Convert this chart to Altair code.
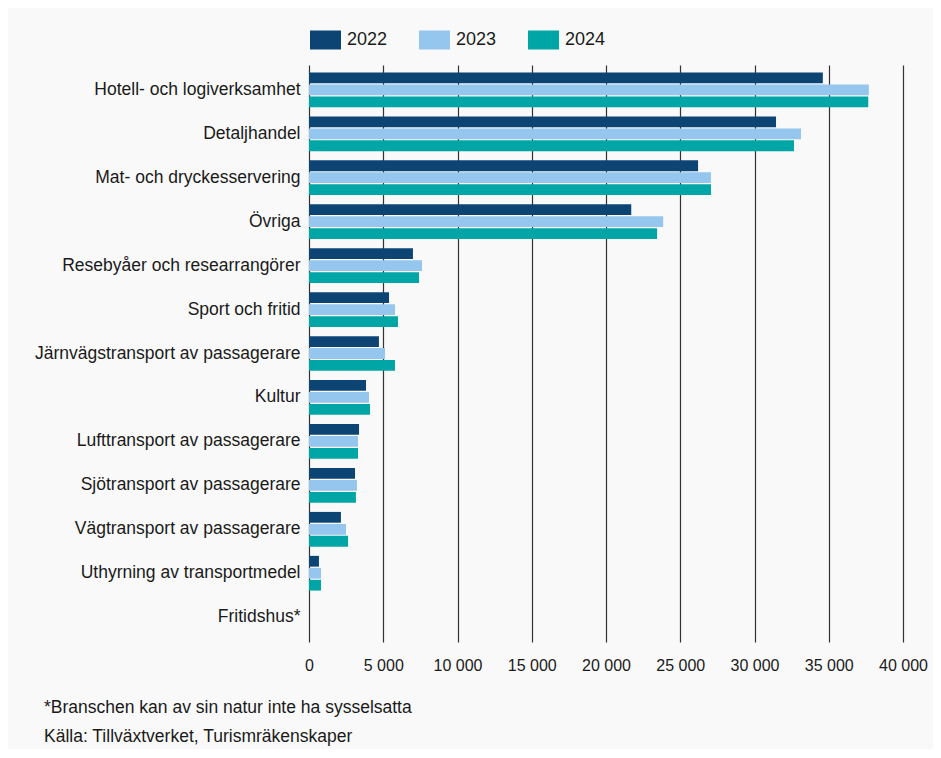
import altair as alt
import pandas as pd

categories = [
    "Hotell- och logiverksamhet",
    "Detaljhandel",
    "Mat- och dryckesservering",
    "Övriga",
    "Resebyåer och researrangörer",
    "Sport och fritid",
    "Järnvägstransport av passagerare",
    "Kultur",
    "Lufttransport av passagerare",
    "Sjötransport av passagerare",
    "Vägtransport av passagerare",
    "Uthyrning av transportmedel",
    "Fritidshus*",
]
years = ["2022", "2023", "2024"]
v2022 = [34600, 31450, 26200, 21700, 7000, 5390, 4710, 3840, 3370, 3100, 2150, 670, 0]
v2023 = [37700, 33130, 27070, 23850, 7610, 5790, 5120, 4040, 3300, 3230, 2490, 810, 0]
v2024 = [37660, 32660, 27070, 23440, 7410, 5990, 5790, 4110, 3300, 3160, 2630, 810, 0]
colors = ["#0c4474", "#94c6ee", "#00a6a5"]
x_ticks = [0, 5000, 10000, 15000, 20000, 25000, 30000, 35000, 40000]
footnotes = [
    "*Branschen kan av sin natur inte ha sysselsatta",
    "Källa: Tillväxtverket, Turismräkenskaper",
]

rows = []
for y, vals in zip(years, [v2022, v2023, v2024]):
    for c, v in zip(categories, vals):
        rows.append({"category": c, "year": y, "value": v})
df = pd.DataFrame(rows)

FONT = "Liberation Sans"

chart = (
    alt.Chart(df)
    .mark_bar(strokeWidth=0)
    .encode(
        x=alt.X(
            "value:Q",
            scale=alt.Scale(domain=[0, 40000], nice=False),
            axis=alt.Axis(
                title=None,
                values=x_ticks,
                labelExpr="replace(format(datum.value, ','), ',', ' ')",
                grid=True,
                ticks=False,
                domain=False,
                labelFlush=False,
                labelOverlap=False,
                labelPadding=15,
                labelFontSize=16,
            ),
        ),
        y=alt.Y(
            "category:N",
            sort=categories,
            scale=alt.Scale(paddingInner=0.21, paddingOuter=0.17),
            axis=alt.Axis(
                title=None,
                ticks=False,
                domain=False,
                grid=False,
                labelPadding=9,
                labelLimit=400,
                labelFontSize=17.5,
            ),
        ),
        yOffset=alt.YOffset(
            "year:N", sort=years, scale=alt.Scale(paddingInner=0.1, paddingOuter=0)
        ),
        color=alt.Color(
            "year:N",
            sort=years,
            scale=alt.Scale(domain=years, range=colors),
            legend=alt.Legend(
                title=None,
                orient="none",
                legendX=1,
                legendY=-41,
                direction="horizontal",
                symbolType="M-1,-0.613H1V0.613H-1Z",
                symbolSize=961,
                symbolStrokeWidth=0,
                symbolOpacity=1,
                labelFontSize=18,
                labelOffset=6,
                columnPadding=31,
                padding=0,
                labelFont=FONT,
                labelColor="#1a1a1a",
            ),
        ),
    )
    .properties(
        width=594,
        height=577,
        autosize=alt.AutoSizeParams(type="none"),
        padding={"left": 301, "top": 57, "right": 30, "bottom": 107},
        background="#f9f9f9",
        title=alt.TitleParams(
            text=footnotes,
            orient="bottom",
            anchor="start",
            frame="group",
            dx=-265,
            offset=26,
            lineHeight=29,
            fontSize=17.5,
            fontWeight="normal",
            font=FONT,
            color="#1a1a1a",
        ),
    )
    .configure_view(stroke=None)
    .configure_axis(
        labelFont=FONT,
        labelColor="#1a1a1a",
        gridColor="#333333",
        gridWidth=1.2,
        gridOpacity=1,
    )
)

chart.save("out.html", embed_options={"renderer": "svg", "actions": False})
